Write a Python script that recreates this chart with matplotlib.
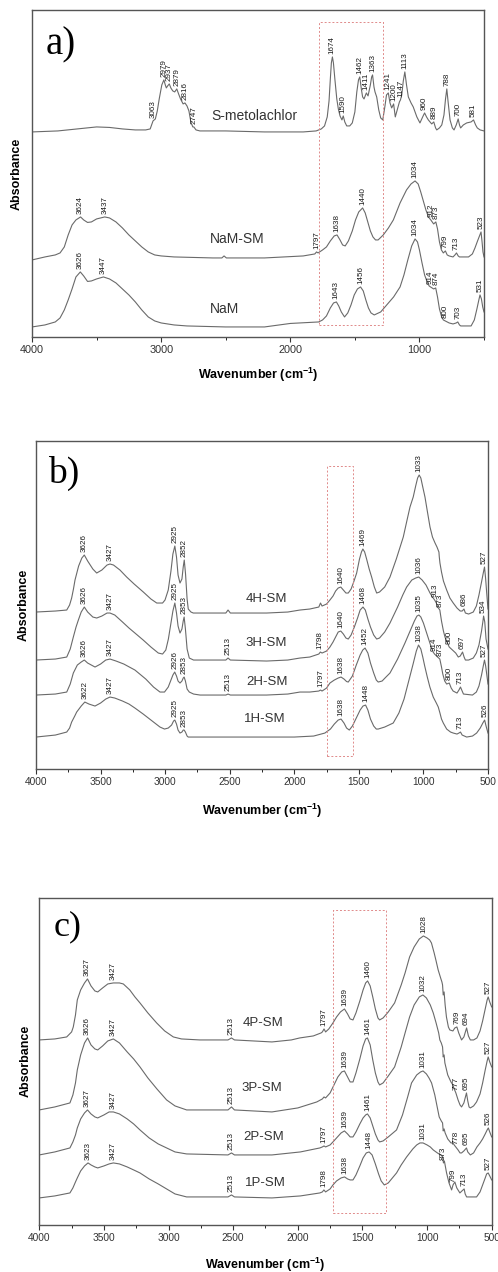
import numpy as np
import matplotlib
matplotlib.use("Agg")
import matplotlib.pyplot as plt
from matplotlib.ticker import MultipleLocator, NullLocator

plt.rcParams['font.family'] = ['Liberation Sans', 'DejaVu Sans']
plt.rcParams['mathtext.default'] = 'regular'

# ---------------- panel a: S-metolachlor, NaM-SM, NaM ----------------
smet_wn = [4000, 3900, 3800, 3650, 3500, 3400, 3300, 3200, 3120, 3085, 3063, 3045, 3030, 3015, 2995,
           2979, 2968, 2960, 2950, 2937, 2925, 2910, 2895, 2879, 2865, 2850, 2830, 2816, 2800, 2785,
           2770, 2755, 2747, 2730, 2700, 2500, 2200, 1900, 1800, 1760, 1735, 1714, 1700, 1690, 1682,
           1674, 1666, 1655, 1640, 1628, 1615, 1600, 1590, 1578, 1563, 1540, 1520, 1500, 1485, 1472,
           1462, 1450, 1440, 1429, 1411, 1398, 1380, 1370, 1363, 1352, 1344, 1331, 1315, 1300, 1284,
           1268, 1255, 1241, 1228, 1215, 1200, 1187, 1170, 1155, 1147, 1137, 1125, 1113, 1100, 1086,
           1065, 1048, 1020, 996, 975, 960, 945, 931, 905, 889, 875, 866, 845, 827, 810, 798, 788,
           778, 763, 745, 732, 715, 700, 690, 681, 660, 634, 600, 581, 565, 552, 530, 500]
smet_abs = [2.05, 2.055, 2.06, 2.08, 2.10, 2.095, 2.08, 2.07, 2.07, 2.08, 2.16, 2.18, 2.26, 2.38, 2.52,
            2.57, 2.52, 2.49, 2.51, 2.53, 2.49, 2.46, 2.45, 2.48, 2.43, 2.38, 2.33, 2.34, 2.31, 2.26,
            2.15, 2.10, 2.10, 2.07, 2.06, 2.06, 2.05, 2.05, 2.06, 2.08, 2.11, 2.20, 2.36, 2.58, 2.74,
            2.80, 2.74, 2.58, 2.38, 2.28, 2.21, 2.17, 2.21, 2.15, 2.11, 2.11, 2.14, 2.25, 2.45, 2.57,
            2.60, 2.48, 2.40, 2.38, 2.44, 2.41, 2.52, 2.60, 2.62, 2.50, 2.45, 2.40, 2.27, 2.19, 2.17,
            2.30, 2.42, 2.44, 2.34, 2.29, 2.33, 2.20, 2.28, 2.35, 2.37, 2.42, 2.56, 2.65, 2.52, 2.40,
            2.34, 2.30, 2.20, 2.14, 2.20, 2.24, 2.20, 2.17, 2.13, 2.15, 2.09, 2.07, 2.09, 2.12, 2.22, 2.38, 2.48,
            2.35, 2.17, 2.09, 2.07, 2.12, 2.18, 2.12, 2.09, 2.12, 2.14, 2.15, 2.17, 2.12, 2.09, 2.07, 2.06]

namsm_wn = [4000, 3900, 3820, 3783, 3750, 3720, 3690, 3660, 3624, 3600, 3570, 3540, 3500, 3437, 3400,
            3350, 3300, 3250, 3200, 3150, 3100, 3050, 3000, 2900, 2600, 2530, 2513, 2495, 2200, 1900,
            1810, 1797, 1785, 1750, 1720, 1690, 1660, 1638, 1615, 1595, 1575, 1550, 1520, 1495, 1470,
            1440, 1420, 1400, 1380, 1360, 1340, 1320, 1280, 1240, 1202, 1150, 1100, 1065, 1034, 1010,
            990, 970, 950, 930, 912, 890, 873, 860, 845, 830, 815, 799, 785, 770, 740, 725, 713, 700,
            690, 620, 590, 570, 550, 535, 523, 515, 508, 500]
namsm_abs = [0.77, 0.80, 0.82, 0.84, 0.90, 1.02, 1.12, 1.17, 1.20, 1.17, 1.145, 1.15, 1.18, 1.20, 1.19,
             1.15, 1.09, 1.02, 0.96, 0.90, 0.85, 0.82, 0.81, 0.80, 0.79, 0.79, 0.81, 0.79, 0.79, 0.81,
             0.83, 0.85, 0.84, 0.87, 0.90, 0.96, 1.01, 1.02, 0.97, 0.92, 0.91, 0.96, 1.06, 1.17, 1.25,
             1.29, 1.24, 1.15, 1.06, 1.00, 0.97, 0.97, 1.02, 1.09, 1.17, 1.34, 1.47, 1.53, 1.56, 1.53,
             1.45, 1.36, 1.27, 1.20, 1.17, 1.13, 1.15, 1.08, 0.95, 0.87, 0.84, 0.86, 0.82, 0.81, 0.80, 0.82, 0.84, 0.81,
             0.80, 0.80, 0.83, 0.89, 0.96, 1.01, 1.05, 0.95, 0.85, 0.80]

nam_wn = [4000, 3900, 3820, 3783, 3750, 3720, 3690, 3660, 3626, 3600, 3570, 3540, 3500, 3447, 3400,
          3350, 3300, 3250, 3200, 3150, 3100, 3050, 3000, 2900, 2800, 2500, 2200, 2000, 1780, 1750,
          1720, 1690, 1665, 1643, 1625, 1605, 1580, 1555, 1530, 1505, 1480, 1456, 1435, 1415, 1395,
          1375, 1350, 1300, 1260, 1200, 1150, 1120, 1090, 1060, 1034, 1015, 1000, 980, 960, 940, 925,
          914, 890, 874, 860, 845, 830, 815, 800, 785, 770, 740, 715, 703, 690, 680, 600, 575, 555,
          540, 531, 520, 510, 500]
nam_abs = [0.10, 0.12, 0.15, 0.19, 0.27, 0.37, 0.48, 0.60, 0.65, 0.61, 0.555, 0.56, 0.58, 0.60, 0.58,
           0.54, 0.48, 0.42, 0.35, 0.27, 0.20, 0.16, 0.14, 0.12, 0.11, 0.10, 0.10, 0.135, 0.15, 0.17,
           0.21, 0.29, 0.34, 0.35, 0.31, 0.25, 0.20, 0.24, 0.32, 0.42, 0.48, 0.50, 0.46, 0.37, 0.29,
           0.24, 0.22, 0.25, 0.31, 0.40, 0.50, 0.62, 0.77, 0.91, 0.98, 0.95, 0.87, 0.74, 0.62, 0.55, 0.51,
           0.50, 0.48, 0.49, 0.40, 0.28, 0.21, 0.17, 0.16, 0.15, 0.14, 0.13, 0.14, 0.15, 0.12, 0.11, 0.11, 0.17, 0.28,
           0.37, 0.42, 0.38, 0.30, 0.25]

smet_peaks = [3063, 2979, 2937, 2879, 2816, 2747, 1674, 1590, 1462, 1411, 1363, 1241, 1200, 1147, 1113,
              960, 889, 788, 700, 581]
namsm_peaks = [3624, 3437, 1797, 1638, 1440, 1034, 912, 873, 799, 713, 523]
nam_peaks = [3626, 3447, 1643, 1456, 1034, 914, 874, 800, 703, 531]

# ---------------- panel b: 4H-SM .. 1H-SM ----------------
h4_wn = [4000, 3850, 3762, 3740, 3724, 3710, 3698, 3670, 3645, 3626, 3600, 3560, 3530, 3490, 3450,
         3427, 3400, 3350, 3298, 3240, 3169, 3110, 3065, 3020, 3001, 2976, 2955, 2940, 2925, 2912,
         2900, 2885, 2870, 2860, 2852, 2842, 2830, 2821, 2800, 2782, 2600, 2530, 2513, 2495, 2214,
         2050, 1956, 1880, 1810, 1797, 1785, 1750, 1724, 1700, 1680, 1660, 1640, 1620, 1600, 1582,
         1560, 1540, 1517, 1495, 1480, 1469, 1455, 1440, 1420, 1401, 1380, 1362, 1340, 1300, 1259,
         1210, 1156, 1125, 1104, 1079, 1060, 1045, 1033, 1020, 1005, 988, 970, 949, 930, 910, 895,
         880, 877, 872, 860, 845, 820, 795, 769, 740, 715, 700, 686, 675, 650, 614, 590, 570, 550,
         535, 527, 518, 510, 500]
h4_abs = [1.57, 1.58, 1.59, 1.64, 1.71, 1.80, 1.89, 2.03, 2.11, 2.14, 2.08, 2.00, 1.96, 1.99, 2.04,
          2.05, 2.04, 1.99, 1.92, 1.85, 1.77, 1.70, 1.66, 1.66, 1.69, 1.79, 1.98, 2.15, 2.23, 2.12,
          1.94, 1.86, 1.90, 2.02, 2.09, 1.95, 1.70, 1.60, 1.57, 1.56, 1.56, 1.56, 1.59, 1.56, 1.56,
          1.57, 1.59, 1.60, 1.62, 1.66, 1.63, 1.65, 1.69, 1.73, 1.78, 1.81, 1.82, 1.79, 1.76, 1.76,
          1.80, 1.87, 1.96, 2.10, 2.17, 2.20, 2.17, 2.10, 2.00, 1.92, 1.82, 1.76, 1.77, 1.82, 1.92,
          2.10, 2.32, 2.50, 2.62, 2.72, 2.83, 2.91, 2.94, 2.91, 2.82, 2.72, 2.58, 2.42, 2.32, 2.26, 2.22,
          2.17, 2.12, 2.06, 1.97, 1.88, 1.79, 1.71, 1.66, 1.61, 1.58, 1.58, 1.60, 1.56, 1.55, 1.57, 1.63, 1.74, 1.87,
          1.97, 2.02, 1.90, 1.76, 1.60]

h3_wn = [4000, 3850, 3762, 3735, 3711, 3690, 3672, 3650, 3626, 3600, 3560, 3530, 3490, 3450, 3427,
         3390, 3330, 3280, 3234, 3170, 3110, 3053, 3020, 2995, 2975, 2955, 2940, 2925, 2912, 2900,
         2885, 2870, 2860, 2853, 2843, 2830, 2813, 2780, 2730, 2530, 2513, 2495, 2214, 2050, 1956,
         1880, 1810, 1798, 1785, 1750, 1724, 1700, 1680, 1660, 1640, 1620, 1600, 1582, 1560, 1535,
         1510, 1490, 1468, 1450, 1430, 1410, 1385, 1362, 1340, 1300, 1259, 1200, 1160, 1130, 1090,
         1060, 1036, 1010, 980, 949, 930, 913, 900, 890, 873, 860, 845, 833, 815, 800, 775, 750, 730,
         715, 697, 685, 675, 650, 614, 590, 570, 550, 540, 534, 525, 515, 500]
h3_abs = [1.09, 1.10, 1.12, 1.20, 1.32, 1.42, 1.49, 1.57, 1.62, 1.57, 1.52, 1.51, 1.53, 1.56, 1.56,
          1.54, 1.47, 1.41, 1.36, 1.29, 1.22, 1.16, 1.15, 1.19, 1.30, 1.46, 1.58, 1.66, 1.56, 1.43,
          1.36, 1.40, 1.48, 1.52, 1.40, 1.20, 1.11, 1.09, 1.09, 1.09, 1.11, 1.09, 1.08, 1.09, 1.11,
          1.12, 1.15, 1.17, 1.16, 1.18, 1.22, 1.27, 1.32, 1.37, 1.38, 1.35, 1.31, 1.30, 1.34, 1.42,
          1.51, 1.59, 1.62, 1.59, 1.50, 1.42, 1.34, 1.30, 1.31, 1.37, 1.46, 1.62, 1.74, 1.82, 1.89,
          1.91, 1.92, 1.89, 1.84, 1.76, 1.72, 1.69, 1.66, 1.62, 1.59, 1.48, 1.38, 1.32, 1.26, 1.22, 1.19, 1.16, 1.12,
          1.13, 1.17, 1.12, 1.09, 1.09, 1.11, 1.16, 1.24, 1.38, 1.47, 1.53, 1.47, 1.30, 1.20]

h2_wn = [4000, 3850, 3762, 3735, 3711, 3680, 3650, 3626, 3600, 3543, 3500, 3460, 3427, 3380, 3320,
         3234, 3150, 3090, 3040, 3005, 2976, 2955, 2940, 2926, 2912, 2900, 2885, 2870, 2860, 2853,
         2843, 2830, 2813, 2780, 2730, 2530, 2513, 2495, 2214, 2050, 1956, 1880, 1810, 1797, 1785,
         1750, 1724, 1690, 1660, 1638, 1615, 1595, 1582, 1550, 1520, 1490, 1470, 1452, 1430, 1410,
         1385, 1365, 1350, 1320, 1290, 1259, 1200, 1143, 1100, 1070, 1050, 1035, 1020, 1000, 980,
         960, 940, 925, 914, 890, 873, 860, 850, 835, 820, 800, 785, 770, 740, 725, 713, 700, 690,
         620, 590, 570, 550, 535, 527, 518, 510, 500]
h2_abs = [0.74, 0.75, 0.77, 0.85, 0.96, 1.04, 1.07, 1.09, 1.06, 1.02, 1.05, 1.09, 1.10, 1.08, 1.05,
          0.99, 0.90, 0.82, 0.77, 0.77, 0.82, 0.89, 0.94, 0.97, 0.93, 0.88, 0.86, 0.88, 0.91, 0.92,
          0.88, 0.80, 0.77, 0.75, 0.74, 0.74, 0.75, 0.74, 0.74, 0.75, 0.77, 0.77, 0.78, 0.79, 0.78,
          0.81, 0.86, 0.89, 0.91, 0.92, 0.90, 0.875, 0.87, 0.93, 1.04, 1.14, 1.19, 1.21, 1.16, 1.06,
          0.96, 0.89, 0.87, 0.88, 0.92, 0.96, 1.10, 1.26, 1.39, 1.48, 1.53, 1.54, 1.52, 1.46, 1.38,
          1.30, 1.22, 1.17, 1.15, 1.12, 1.10, 1.02, 0.95, 0.88, 0.85, 0.86, 0.81, 0.78, 0.76, 0.79, 0.82, 0.78, 0.75,
          0.74, 0.77, 0.83, 0.94, 1.04, 1.09, 1.03, 0.95, 0.85]

h1_wn = [4000, 3850, 3762, 3740, 3724, 3700, 3685, 3650, 3622, 3590, 3543, 3500, 3460, 3427, 3390,
         3330, 3280, 3234, 3170, 3100, 3040, 3005, 2976, 2950, 2935, 2925, 2912, 2900, 2885, 2870,
         2860, 2853, 2843, 2830, 2821, 2500, 2000, 1850, 1763, 1720, 1690, 1660, 1638, 1615, 1595,
         1574, 1550, 1520, 1490, 1468, 1448, 1430, 1410, 1385, 1365, 1350, 1300, 1234, 1190, 1150,
         1110, 1080, 1055, 1038, 1020, 1005, 990, 970, 950, 924, 900, 885, 872, 860, 846, 820, 790,
         769, 740, 725, 713, 700, 665, 620, 588, 560, 540, 526, 515, 500]
h1_abs = [0.32, 0.34, 0.37, 0.41, 0.47, 0.53, 0.57, 0.63, 0.67, 0.65, 0.63, 0.66, 0.70, 0.72, 0.71,
          0.68, 0.65, 0.61, 0.55, 0.48, 0.42, 0.40, 0.41, 0.44, 0.48, 0.49, 0.45, 0.39, 0.36, 0.37,
          0.39, 0.39, 0.37, 0.33, 0.32, 0.32, 0.32, 0.33, 0.36, 0.40, 0.45, 0.49, 0.50, 0.46, 0.41,
          0.39, 0.43, 0.51, 0.59, 0.63, 0.64, 0.59, 0.50, 0.43, 0.40, 0.40, 0.42, 0.46, 0.56, 0.70,
          0.90, 1.05, 1.18, 1.24, 1.20, 1.12, 1.03, 0.92, 0.82, 0.72, 0.66, 0.62, 0.56, 0.50, 0.46, 0.40, 0.37,
          0.36, 0.35, 0.36, 0.37, 0.34, 0.32, 0.33, 0.36, 0.41, 0.46, 0.49, 0.43, 0.36]

h4_peaks = [3626, 3427, 2925, 2852, 1640, 1469, 1033, 686, 527]
h3_peaks = [3626, 3427, 2925, 2853, 2513, 1798, 1640, 1468, 1036, 913, 873, 800, 697, 534]
h2_peaks = [3626, 3427, 2926, 2853, 2513, 1797, 1638, 1452, 1035, 914, 873, 800, 713, 527]
h1_peaks = [3622, 3427, 2925, 2853, 1638, 1448, 1038, 713, 526]

# ---------------- panel c: 4P-SM .. 1P-SM ----------------
p4_wn = [4000, 3880, 3788, 3750, 3737, 3720, 3706, 3680, 3650, 3627, 3600, 3570, 3548, 3510, 3470,
         3427, 3380, 3350, 3300, 3260, 3221, 3160, 3092, 3030, 2963, 2900, 2758, 2540, 2513, 2490,
         2200, 2050, 1985, 1880, 1820, 1810, 1797, 1785, 1760, 1728, 1700, 1670, 1639, 1615, 1595,
         1573, 1550, 1520, 1495, 1475, 1460, 1440, 1420, 1400, 1380, 1367, 1340, 1300, 1251, 1200,
         1170, 1135, 1100, 1060, 1028, 1000, 980, 966, 945, 930, 914, 895, 885, 880, 875, 868, 860,
         850, 835, 824, 800, 785, 769, 755, 733, 715, 694, 680, 665, 640, 614, 590, 570, 550, 535,
         527, 515, 500]
p4_abs = [1.85, 1.86, 1.88, 1.93, 1.98, 2.10, 2.25, 2.35, 2.42, 2.46, 2.39, 2.34, 2.33, 2.37, 2.41,
          2.42, 2.42, 2.41, 2.35, 2.28, 2.22, 2.12, 2.02, 1.94, 1.88, 1.86, 1.85, 1.85, 1.87, 1.85,
          1.83, 1.85, 1.87, 1.89, 1.92, 1.93, 1.96, 1.93, 1.96, 2.02, 2.08, 2.13, 2.16, 2.11, 2.06,
          2.05, 2.12, 2.24, 2.35, 2.42, 2.44, 2.39, 2.28, 2.16, 2.07, 2.05, 2.07, 2.13, 2.22, 2.40,
          2.52, 2.68, 2.78, 2.86, 2.89, 2.87, 2.85, 2.82, 2.72, 2.64, 2.55, 2.47, 2.43, 2.40, 2.30, 2.33, 2.20,
          2.08, 1.98, 1.95, 1.94, 1.97, 1.98, 1.92, 1.85, 1.88, 1.97, 1.89, 1.85, 1.85, 1.87, 1.94, 2.04, 2.16, 2.25,
          2.28, 2.23, 2.18]

p3_wn = [4000, 3880, 3763, 3740, 3720, 3706, 3680, 3650, 3626, 3600, 3570, 3548, 3510, 3470, 3427,
         3380, 3320, 3270, 3221, 3160, 3090, 3015, 2950, 2860, 2540, 2513, 2490, 2200, 2000, 1853,
         1810, 1797, 1785, 1750, 1720, 1690, 1660, 1639, 1615, 1595, 1573, 1550, 1520, 1495, 1475,
         1461, 1440, 1420, 1400, 1380, 1367, 1340, 1300, 1251, 1200, 1170, 1135, 1100, 1060, 1032,
         1005, 975, 952, 930, 910, 901, 890, 880, 875, 868, 862, 840, 815, 800, 790, 777, 760, 745,
         733, 715, 695, 685, 675, 665, 640, 617, 590, 570, 550, 535, 527, 515, 500]
p3_abs = [1.15, 1.18, 1.22, 1.30, 1.42, 1.55, 1.70, 1.82, 1.87, 1.80, 1.76, 1.75, 1.79, 1.84, 1.86,
          1.82, 1.73, 1.66, 1.58, 1.47, 1.36, 1.25, 1.19, 1.15, 1.15, 1.18, 1.15, 1.13, 1.17, 1.23,
          1.26, 1.28, 1.27, 1.32, 1.40, 1.48, 1.53, 1.54, 1.48, 1.43, 1.43, 1.52, 1.66, 1.79, 1.86,
          1.87, 1.80, 1.65, 1.52, 1.43, 1.40, 1.42, 1.49, 1.58, 1.78, 1.92, 2.08, 2.20, 2.28, 2.30,
          2.27, 2.20, 2.12, 2.02, 1.92, 1.85, 1.82, 1.78, 1.68, 1.70, 1.62, 1.50, 1.43, 1.40, 1.36, 1.32, 1.25, 1.20,
          1.18, 1.22, 1.32, 1.24, 1.18, 1.17, 1.19, 1.23, 1.31, 1.42, 1.55, 1.64, 1.68, 1.63, 1.58]

p2_wn = [4000, 3880, 3763, 3740, 3720, 3706, 3680, 3650, 3627, 3600, 3570, 3548, 3500, 3460, 3427,
         3380, 3320, 3270, 3221, 3150, 3080, 3015, 2950, 2860, 2540, 2513, 2490, 2200, 1980, 1829,
         1810, 1797, 1785, 1750, 1728, 1700, 1665, 1639, 1615, 1595, 1573, 1550, 1520, 1495, 1475,
         1461, 1440, 1420, 1400, 1380, 1367, 1340, 1300, 1236, 1190, 1150, 1120, 1080, 1050, 1031,
         1005, 985, 965, 940, 920, 906, 890, 880, 875, 868, 860, 840, 815, 800, 790, 778, 760, 745,
         733, 715, 695, 685, 665, 640, 614, 590, 570, 550, 535, 526, 515, 500]
p2_abs = [0.70, 0.73, 0.77, 0.83, 0.90, 0.97, 1.06, 1.12, 1.15, 1.11, 1.08, 1.07, 1.10, 1.13, 1.13,
          1.11, 1.06, 1.01, 0.95, 0.87, 0.81, 0.77, 0.73, 0.71, 0.70, 0.72, 0.70, 0.70, 0.73, 0.77,
          0.78, 0.79, 0.78, 0.80, 0.83, 0.87, 0.92, 0.94, 0.91, 0.88, 0.88, 0.93, 1.01, 1.07, 1.10,
          1.11, 1.07, 0.99, 0.91, 0.85, 0.83, 0.84, 0.88, 0.95, 1.10, 1.28, 1.42, 1.50, 1.53, 1.54,
          1.51, 1.47, 1.42, 1.30, 1.17, 1.08, 1.04, 1.02, 0.94, 0.96, 0.92, 0.86, 0.82, 0.82, 0.80, 0.78, 0.75, 0.72,
          0.72, 0.74, 0.77, 0.73, 0.70, 0.72, 0.78, 0.82, 0.86, 0.91, 0.95, 0.97, 0.93, 0.88]

p1_wn = [4000, 3880, 3763, 3740, 3720, 3706, 3680, 3650, 3623, 3600, 3570, 3548, 3500, 3460, 3427,
         3380, 3320, 3270, 3221, 3150, 3080, 3015, 2950, 2860, 2540, 2513, 2490, 2200, 1980, 1829,
         1810, 1798, 1785, 1750, 1728, 1700, 1665, 1638, 1615, 1595, 1573, 1550, 1520, 1495, 1470,
         1448, 1425, 1400, 1375, 1355, 1331, 1300, 1236, 1200, 1158, 1110, 1080, 1055, 1031, 1000,
         975, 952, 920, 895, 885, 880, 873, 866, 849, 830, 810, 799, 785, 770, 746, 730, 713, 705,
         694, 660, 617, 590, 570, 550, 539, 527, 515, 500]
p1_abs = [0.27, 0.29, 0.32, 0.37, 0.43, 0.47, 0.54, 0.59, 0.62, 0.60, 0.58, 0.57, 0.59, 0.61, 0.62,
          0.61, 0.58, 0.55, 0.52, 0.46, 0.41, 0.36, 0.31, 0.28, 0.28, 0.30, 0.28, 0.27, 0.29, 0.32,
          0.33, 0.35, 0.33, 0.36, 0.40, 0.44, 0.47, 0.48, 0.46, 0.45, 0.45, 0.50, 0.59, 0.67, 0.72,
          0.73, 0.70, 0.61, 0.51, 0.44, 0.40, 0.42, 0.52, 0.60, 0.68, 0.76, 0.80, 0.82, 0.82, 0.80,
          0.78, 0.75, 0.72, 0.70, 0.69, 0.68, 0.62, 0.64, 0.52, 0.42, 0.35, 0.40, 0.43, 0.37, 0.32, 0.34, 0.36, 0.31,
          0.28, 0.28, 0.28, 0.33, 0.40, 0.47, 0.51, 0.52, 0.49, 0.45]

p4_peaks = [3627, 3427, 2513, 1797, 1639, 1460, 1028, 769, 694, 527]
p3_peaks = [3626, 3427, 2513, 1639, 1461, 1032, 777, 695, 527]
p2_peaks = [3627, 3427, 2513, 1797, 1639, 1461, 1031, 778, 695, 526]
p1_peaks = [3623, 3427, 2513, 1798, 1638, 1448, 1031, 873, 799, 713, 527]

LINE = '#6a6a6a'
BOX = '#e08a8a'


def peak_labels(ax, wn, ab, peaks):
    xs = np.array(wn[::-1], dtype=float)
    ys = np.array(ab[::-1], dtype=float)
    for p in peaks:
        y = np.interp(p, xs, ys)
        ax.annotate(str(p), (p, y), xytext=(0, 2), textcoords='offset points',
                    rotation=90, ha='center', va='bottom', fontsize=5.8, color='#1a1a1a')


def setup(ax, top, major, minor, tick_fs):
    ax.set_xlim(4000, 500)
    ax.set_ylim(0, top)
    ax.xaxis.set_major_locator(MultipleLocator(major))
    ax.xaxis.set_minor_locator(MultipleLocator(minor))
    ax.yaxis.set_major_locator(NullLocator())
    ax.tick_params(axis='x', which='major', direction='out', length=3.5, width=0.8,
                   labelsize=tick_fs, colors='#333333', pad=2)
    ax.tick_params(axis='x', which='minor', direction='out', length=2, width=0.6)
    for s in ax.spines.values():
        s.set_color('#555555')
        s.set_linewidth(1.0)


def finish(ax, letter, lx, ly, size, xlab_off, ylab_x):
    ax.text(lx, ly, letter, transform=ax.transAxes, fontsize=size, family='Liberation Serif',
            ha='left', va='center')
    ax.set_xlabel('Wavenumber (cm$^{-1}$)', fontsize=9, fontweight='bold', va='center')
    ax.xaxis.set_label_coords(0.5, xlab_off)
    ax.set_ylabel('Absorbance', fontsize=9, fontweight='bold', va='center')
    ax.yaxis.set_label_coords(ylab_x, 0.5)


fig = plt.figure(figsize=(4.98, 12.72), dpi=100)

# panel a
ax = fig.add_axes([0.0643, 0.7351, 0.9076, 0.2571])
setup(ax, 3.27, 1000, 500, 7.8)
for wn, ab, pk in [(smet_wn, smet_abs, smet_peaks), (namsm_wn, namsm_abs, namsm_peaks),
                   (nam_wn, nam_abs, nam_peaks)]:
    ax.plot(wn, ab, color=LINE, lw=0.8)
    peak_labels(ax, wn, ab, pk)
ax.plot([1780, 1280, 1280, 1780, 1780], [0.12, 0.12, 3.15, 3.15, 0.12],
        color=BOX, lw=0.7, ls=(0, (2, 2)))
ax.text(2277, 2.21, 'S-metolachlor', ha='center', va='center', fontsize=10, color='#333333')
ax.text(2410, 0.98, 'NaM-SM', ha='center', va='center', fontsize=10, color='#333333')
ax.text(2506, 0.28, 'NaM', ha='center', va='center', fontsize=10, color='#333333')
finish(ax, 'a)', 0.029, 0.893, 28, -38 / 327, -0.033)

# panel b
ax = fig.add_axes([0.0723, 0.3954, 0.9076, 0.2579])
setup(ax, 3.28, 500, 250, 7.3)
for wn, ab, pk in [(h4_wn, h4_abs, h4_peaks), (h3_wn, h3_abs, h3_peaks),
                   (h2_wn, h2_abs, h2_peaks), (h1_wn, h1_abs, h1_peaks)]:
    ax.plot(wn, ab, color=LINE, lw=0.8)
    peak_labels(ax, wn, ab, pk)
ax.plot([1745, 1545, 1545, 1745, 1745], [0.13, 0.13, 3.03, 3.03, 0.13],
        color=BOX, lw=0.7, ls=(0, (2, 2)))
for name, x, y in [('4H-SM', 2214, 1.70), ('3H-SM', 2214, 1.26), ('2H-SM', 2214, 0.87),
                   ('1H-SM', 2227, 0.50)]:
    ax.text(x, y, name, ha='center', va='center', fontsize=9.5, color='#333333')
finish(ax, 'b)', 0.027, 0.90, 27, -42 / 328, -0.028)

# panel c
ax = fig.add_axes([0.0789, 0.0370, 0.9084, 0.2573])
setup(ax, 3.273, 500, 250, 7.3)
for wn, ab, pk in [(p4_wn, p4_abs, p4_peaks), (p3_wn, p3_abs, p3_peaks),
                   (p2_wn, p2_abs, p2_peaks), (p1_wn, p1_abs, p1_peaks)]:
    ax.plot(wn, ab, color=LINE, lw=0.8)
    peak_labels(ax, wn, ab, pk)
ax.plot([1726, 1321, 1321, 1726, 1726], [0.117, 0.117, 3.15, 3.15, 0.117],
        color=BOX, lw=0.7, ls=(0, (2, 2)))
for name, x, y in [('4P-SM', 2267, 2.02), ('3P-SM', 2280, 1.37), ('2P-SM', 2267, 0.88),
                   ('1P-SM', 2254, 0.42)]:
    ax.text(x, y, name, ha='center', va='center', fontsize=9.5, color='#333333')
finish(ax, 'c)', 0.031, 0.91, 26, -40 / 327, -0.031)

fig.savefig('out.png', dpi=100)
